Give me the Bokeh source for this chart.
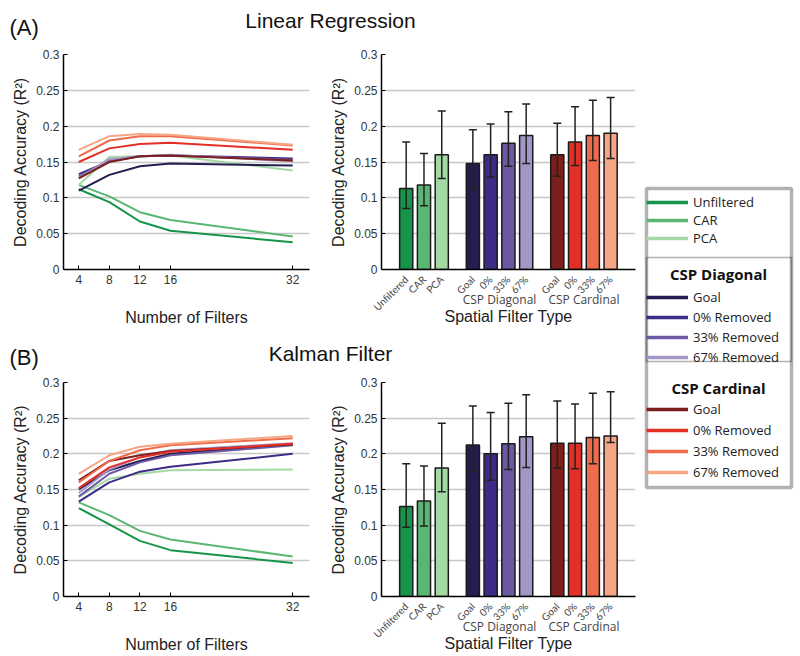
import math
from bokeh.plotting import figure
from bokeh.layouts import row, column
from bokeh.models import (ColumnDataSource, Whisker, TeeHead, FixedTicker, LinearAxis,
                          Legend, LegendItem, Label, BoxAnnotation, Range1d)
from bokeh.embed import file_html
from bokeh.resources import INLINE

# ---------------- data ----------------
filters = [4, 8, 12, 16, 32]
filter_ticks = [4, 8, 12, 16, 32]
y_ticks = [0, 0.05, 0.1, 0.15, 0.2, 0.25, 0.3]
y_tick_labels = ["0", "0.05", "0.1", "0.15", "0.2", "0.25", "0.3"]

series_names = ["Unfiltered", "CAR", "PCA",
                "Goal", "0% Removed", "33% Removed", "67% Removed",
                "Goal", "0% Removed", "33% Removed", "67% Removed"]
series_colors = ["#16944a", "#5cb673", "#a5d9a4",
                 "#251d50", "#3e2b87", "#6c58a3", "#a596c8",
                 "#7c1f1c", "#e42f26", "#ee6b4b", "#f6a684"]
legend_sections = [None, "CSP Diagonal", "CSP Cardinal"]

# Linear regression, accuracy vs number of filters
lr_unfiltered = [0.112, 0.094, 0.067, 0.054, 0.038]
lr_car = [0.118, 0.102, 0.080, 0.069, 0.046]
lr_pca = [0.118, 0.157, 0.158, 0.159, 0.138]
lr_diag_goal = [0.110, 0.132, 0.144, 0.148, 0.145]
lr_diag_0 = [0.133, 0.151, 0.158, 0.159, 0.155]
lr_diag_33 = [0.130, 0.152, 0.158, 0.159, 0.153]
lr_diag_67 = [0.128, 0.154, 0.158, 0.160, 0.151]
lr_card_goal = [0.127, 0.150, 0.158, 0.159, 0.152]
lr_card_0 = [0.150, 0.169, 0.175, 0.177, 0.167]
lr_card_33 = [0.158, 0.180, 0.186, 0.186, 0.173]
lr_card_67 = [0.167, 0.186, 0.189, 0.188, 0.174]

# Kalman filter, accuracy vs number of filters
kf_unfiltered = [0.124, 0.101, 0.078, 0.065, 0.047]
kf_car = [0.132, 0.114, 0.092, 0.080, 0.056]
kf_pca = [0.140, 0.165, 0.172, 0.177, 0.178]
kf_diag_goal = [0.150, 0.177, 0.190, 0.200, 0.213]
kf_diag_0 = [0.133, 0.160, 0.175, 0.182, 0.200]
kf_diag_33 = [0.140, 0.172, 0.188, 0.198, 0.212]
kf_diag_67 = [0.145, 0.178, 0.195, 0.205, 0.215]
kf_card_goal = [0.163, 0.190, 0.198, 0.204, 0.213]
kf_card_0 = [0.152, 0.181, 0.195, 0.203, 0.214]
kf_card_33 = [0.160, 0.190, 0.205, 0.212, 0.222]
kf_card_67 = [0.172, 0.198, 0.210, 0.214, 0.225]

# Bar charts (spatial filter type)
bar_groups = ["", "", "", "CSP Diagonal", "CSP Diagonal", "CSP Diagonal", "CSP Diagonal",
              "CSP Cardinal", "CSP Cardinal", "CSP Cardinal", "CSP Cardinal"]
bar_labels = ["Unfiltered", "CAR", "PCA", "Goal", "0%", "33%", "67%", "Goal", "0%", "33%", "67%"]
lr_mean = [0.113, 0.118, 0.160, 0.148, 0.160, 0.176, 0.187, 0.160, 0.178, 0.187, 0.190]
lr_upper = [0.178, 0.162, 0.221, 0.195, 0.203, 0.220, 0.231, 0.204, 0.227, 0.236, 0.240]
lr_lower = [0.085, 0.089, 0.127, 0.112, 0.129, 0.144, 0.148, 0.130, 0.145, 0.152, 0.155]
kf_mean = [0.126, 0.134, 0.180, 0.2125, 0.200, 0.214, 0.224, 0.215, 0.215, 0.223, 0.225]
kf_upper = [0.186, 0.183, 0.243, 0.267, 0.258, 0.271, 0.283, 0.274, 0.270, 0.285, 0.287]
kf_lower = [0.097, 0.099, 0.147, 0.175, 0.163, 0.178, 0.181, 0.180, 0.179, 0.186, 0.216]

lr_lines = [lr_unfiltered, lr_car, lr_pca, lr_diag_goal, lr_diag_0, lr_diag_33, lr_diag_67,
            lr_card_goal, lr_card_0, lr_card_33, lr_card_67]
kf_lines = [kf_unfiltered, kf_car, kf_pca, kf_diag_goal, kf_diag_0, kf_diag_33, kf_diag_67,
            kf_card_goal, kf_card_0, kf_card_33, kf_card_67]

SANS = "Liberation Sans"
HUM = "Open Sans"
YLABEL = "Decoding Accuracy (R\u00b2)"

# bar slots: 4 units per bar, 3 extra units between groups
group_names = []
for g in bar_groups:
    if g not in group_names:
        group_names.append(g)
bar_pos = []
for i, g in enumerate(bar_groups):
    bar_pos.append(4 * (i + 1) + 3 * group_names.index(g))
group_centers = []
group_captions = []
for gname in group_names:
    if gname:
        xs = [x for x, g in zip(bar_pos, bar_groups) if g == gname]
        group_centers.append(sum(xs) // len(xs))
        group_captions.append(gname)


def style(p):
    p.outline_line_color = None
    p.background_fill_color = "white"
    p.xgrid.grid_line_color = None
    p.ygrid.grid_line_color = "#c8c8c8"
    p.ygrid.grid_line_width = 1.5
    for ax in p.axis:
        ax.axis_line_color = "black"
        ax.axis_line_width = 1.5
        ax.minor_tick_line_color = None
        ax.major_label_text_font = SANS
        ax.major_label_text_font_size = "12px"
        ax.major_label_text_color = "#333333"
        ax.axis_label_text_font = SANS
        ax.axis_label_text_font_size = "16px"
        ax.axis_label_text_font_style = "normal"
        ax.axis_label_text_color = "#222222"
    p.yaxis.ticker = FixedTicker(ticks=y_ticks)
    p.yaxis.major_label_overrides = dict(zip(y_ticks, y_tick_labels))
    p.yaxis.major_tick_in = 4
    p.yaxis.major_tick_out = 0
    p.yaxis.major_tick_line_color = "black"
    p.yaxis.major_label_standoff = 4
    p.yaxis.axis_label = YLABEL
    p.yaxis.axis_label_standoff = 4


def line_panel(lines, height, top, bottom):
    p = figure(width=327, height=height, x_range=Range1d(2, 34.2), y_range=Range1d(0, 0.3),
               output_backend="svg", toolbar_location=None,
               min_border_left=63, min_border_right=18, min_border_top=top, min_border_bottom=bottom)
    style(p)
    p.xaxis.ticker = FixedTicker(ticks=filter_ticks)
    p.xaxis.major_tick_in = 4
    p.xaxis.major_tick_out = 0
    p.xaxis.major_tick_line_color = "black"
    p.xaxis.axis_label = "Number of Filters"
    p.xaxis.axis_label_standoff = 22
    for ys, c in zip(lines, series_colors):
        p.line(filters, ys, line_color=c, line_width=2)
    return p


def bar_panel(mean, upper, lower, height, top, bottom):
    p = figure(width=313, height=height,
               x_range=Range1d(bar_pos[0] - 5.56, bar_pos[-1] + 5.6), y_range=Range1d(0, 0.3),
               output_backend="svg", toolbar_location=None,
               min_border_left=51, min_border_right=5, min_border_top=top, min_border_bottom=bottom)
    # second axis below for the group captions, pulled up under the short tick labels
    gax = LinearAxis(ticker=FixedTicker(ticks=group_centers),
                     major_label_overrides=dict(zip(group_centers, group_captions)))
    p.add_layout(gax, "below")
    style(p)
    src = ColumnDataSource(dict(x=bar_pos, top=mean, upper=upper, lower=lower, color=series_colors))
    p.vbar(x="x", top="top", width=2.96, source=src, fill_color="color",
           line_color="#1a1a1a", line_width=1.5)
    w = Whisker(source=src, base="x", upper="upper", lower="lower",
                line_color="#222222", line_width=1.5, level="overlay",
                upper_head=TeeHead(size=8, line_width=1.5, line_color="#222222"),
                lower_head=TeeHead(size=8, line_width=1.5, line_color="#222222"))
    p.add_layout(w)
    ax = p.xaxis[0]
    ax.ticker = FixedTicker(ticks=bar_pos)
    ax.major_label_overrides = dict(zip(bar_pos, bar_labels))
    ax.major_tick_line_color = None
    ax.major_label_orientation = math.pi / 4
    ax.major_label_standoff = 2
    ax.major_label_text_font = "Lato"
    ax.major_label_text_font_size = "10px"
    ax.major_label_text_color = "#444444"
    gax.axis_line_color = None
    gax.major_tick_line_color = None
    gax.major_label_standoff = -36
    gax.major_label_text_font = HUM
    gax.major_label_text_font_size = "12px"
    gax.major_label_text_color = "#444444"
    gax.axis_label = "Spatial Filter Type"
    gax.axis_label_standoff = -3
    return p


def title_strip(tag, title, height, tag_y, title_y):
    p = figure(width=640, height=height, x_range=Range1d(0, 640), y_range=Range1d(0, height),
               output_backend="svg", toolbar_location=None, min_border=0,
               x_axis_type=None, y_axis_type=None)
    p.outline_line_color = None
    p.grid.grid_line_color = None
    p.add_layout(Label(x=9, y=tag_y, text=tag, text_font=SANS, text_font_size="22px",
                       text_baseline="middle", text_align="left", text_color="#111111"))
    p.add_layout(Label(x=330, y=title_y, text=title, text_font=SANS, text_font_size="21px",
                       text_baseline="middle", text_align="center", text_color="#111111"))
    return p


tA = title_strip("(A)", "Linear Regression", 40, 13, 20)
pA1 = line_panel(lr_lines, 290, 14, 61)
pA2 = bar_panel(lr_mean, lr_upper, lr_lower, 290, 14, 61)
tB = title_strip("(B)", "Kalman Filter", 40, 13, 17)
pB1 = line_panel(kf_lines, 286, 12, 60)
pB2 = bar_panel(kf_mean, kf_upper, kf_lower, 286, 12, 60)

# ---------------- legend panel ----------------
pl = figure(width=160, height=656, x_range=Range1d(0, 160), y_range=Range1d(656, 0),
            output_backend="svg", toolbar_location=None, min_border=0,
            x_axis_type=None, y_axis_type=None)
pl.outline_line_color = None
pl.grid.grid_line_color = None
rends = [pl.line(x=[-50, -40], y=[-50, -50], line_color=c, line_width=3.5) for c in series_colors]


def make_legend(idx, loc, spacing):
    items = [LegendItem(label=series_names[i], renderers=[rends[i]]) for i in idx]
    return Legend(items=items, location=loc, padding=7, spacing=spacing,
                  glyph_width=42, glyph_height=18, label_height=18, label_standoff=5,
                  label_text_font=HUM, label_text_font_size="13px", label_text_color="#222222",
                  label_text_baseline="middle",
                  border_line_color=None, background_fill_alpha=0, margin=0)


pl.add_layout(make_legend([0, 1, 2], (6, 409), 0), "center")
pl.add_layout(make_legend([3, 4, 5, 6], (6, 290), 2), "center")
pl.add_layout(make_legend([7, 8, 9, 10], (6, 175), 3), "center")

pl.add_layout(Label(x=78, y=273, text=legend_sections[1], text_font=HUM, text_font_size="15px",
                    text_font_style="bold", text_align="center", text_baseline="middle",
                    text_color="#111111"))
pl.add_layout(Label(x=78, y=387, text=legend_sections[2], text_font=HUM, text_font_size="15px",
                    text_font_style="bold", text_align="center", text_baseline="middle",
                    text_color="#111111"))

pl.add_layout(BoxAnnotation(left=6, right=151, top=257, bottom=361, fill_alpha=0,
                            line_color="black", line_width=1.5))
pl.add_layout(BoxAnnotation(left=6, right=151, top=188, bottom=487, fill_alpha=0,
                            line_color="black", line_width=3.5))

left = column(tA, row(pA1, pA2), tB, row(pB1, pB2))
layout = row(left, pl)

open("out.html", "w").write(file_html(layout, INLINE))
